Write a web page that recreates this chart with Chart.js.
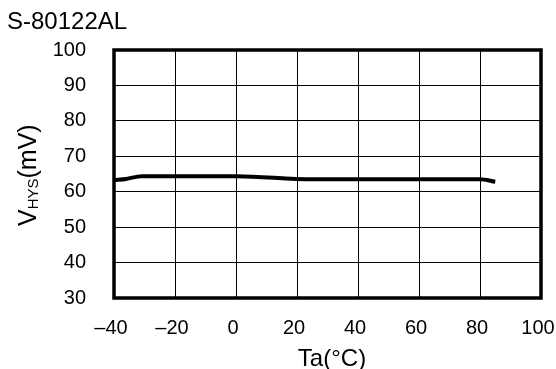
<!DOCTYPE html>
<html>
<head>
<meta charset="utf-8">
<script src="https://cdn.jsdelivr.net/npm/chart.js@4/dist/chart.umd.min.js"></script>
<style>
  html, body { margin: 0; padding: 0; background: #fff; }
  #wrap { width: 556px; height: 369px; position: relative; }
</style>
</head>
<body>
<div id="wrap"><canvas id="c" width="556" height="369"></canvas></div>
<script>
// Hysteresis voltage vs ambient temperature
const temperatures = [-40, -36, -31, 0, 25, 80, 85];
const vhysValues = [63.3, 63.6, 64.4, 64.4, 63.5, 63.5, 62.8];
const xTickValues = [-40, -20, 0, 20, 40, 60, 80, 100];
const xTickLabels = ['\u201340', '\u201320', '0', '20', '40', '60', '80', '100'];
const yTickValues = [30, 40, 50, 60, 70, 80, 90, 100];
const chartTitle = 'S-80122AL';
const xTitle = 'Ta(\u00B0C)';

const FONT = '"Liberation Sans", Arial, sans-serif';

const decorations = {
  id: 'decorations',
  afterDatasetsDraw(chart) {
    const { ctx, chartArea: a } = chart;
    ctx.save();
    // thick frame around the plot
    ctx.strokeStyle = '#000';
    ctx.lineWidth = 3.5;
    ctx.strokeRect(a.left, a.top, a.right - a.left, a.bottom - a.top);

    ctx.fillStyle = '#000';
    // chart title
    ctx.font = '24px ' + FONT;
    ctx.textAlign = 'left';
    ctx.textBaseline = 'alphabetic';
    ctx.fillText(chartTitle, 7, 29);

    // x axis title
    ctx.font = '24px ' + FONT;
    ctx.textAlign = 'center';
    ctx.fillText(xTitle, 332, 366);

    // y axis title with subscript
    ctx.translate(36, 226);
    ctx.rotate(-Math.PI / 2);
    ctx.textAlign = 'left';
    ctx.font = '25px ' + FONT;
    let x = 0;
    ctx.fillText('V', x, 0);
    x += ctx.measureText('V').width;
    ctx.font = '15px ' + FONT;
    ctx.fillText('HYS', x, 2);
    x += ctx.measureText('HYS').width;
    ctx.font = '25px ' + FONT;
    ctx.fillText('(mV)', x, 0);
    ctx.restore();
  }
};

new Chart(document.getElementById('c'), {
  type: 'line',
  data: {
    datasets: [{
      data: temperatures.map((t, i) => ({ x: t, y: vhysValues[i] })),
      borderColor: '#000',
      borderWidth: 4,
      pointRadius: 0,
      cubicInterpolationMode: 'monotone',
      fill: false
    }]
  },
  options: {
    responsive: false,
    animation: false,
    layout: { autoPadding: false, padding: { top: 50, right: 15, left: 0, bottom: 0 } },
    plugins: { legend: { display: false }, tooltip: { enabled: false }, title: { display: false } },
    scales: {
      x: {
        type: 'linear',
        min: -40, max: 100,
        afterFit(s) { s.height = 71; s.paddingLeft = 0; s.paddingRight = 0; },
        afterBuildTicks(s) { s.ticks = xTickValues.map(v => ({ value: v })); },
        grid: { color: '#000', lineWidth: 1, drawTicks: false },
        border: { display: false },
        ticks: {
          padding: 18,
          labelOffset: -3,
          color: '#000',
          font: { family: FONT, size: 20 },
          maxRotation: 0,
          autoSkip: false,
          callback: (v) => xTickLabels[xTickValues.indexOf(v)]
        }
      },
      y: {
        min: 30, max: 100,
        afterFit(s) { s.width = 114; s.paddingTop = 0; s.paddingBottom = 0; },
        afterBuildTicks(s) { s.ticks = yTickValues.map(v => ({ value: v })); },
        grid: { color: '#000', lineWidth: 1, drawTicks: false },
        border: { display: false },
        ticks: {
          padding: 28,
          color: '#000',
          font: { family: FONT, size: 20 },
          autoSkip: false
        }
      }
    }
  },
  plugins: [decorations]
});
</script>
</body>
</html>
